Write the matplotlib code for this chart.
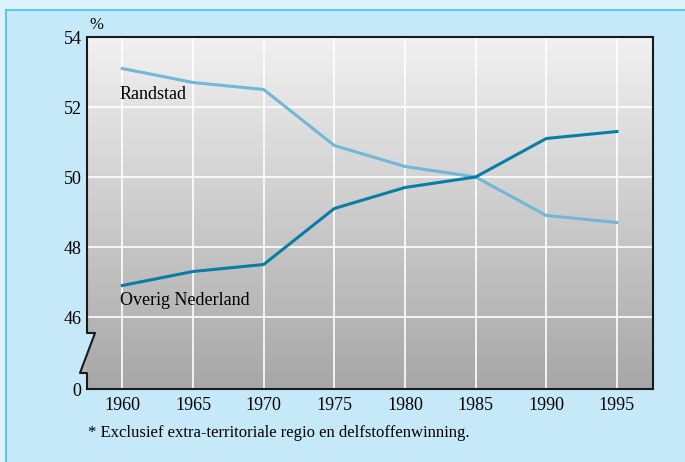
import numpy as np
import matplotlib.pyplot as plt
from matplotlib.colors import LinearSegmentedColormap
from matplotlib.patches import Polygon, Rectangle
from matplotlib.lines import Line2D

years = [1960, 1965, 1970, 1975, 1980, 1985, 1990, 1995]
randstad = [53.1, 52.7, 52.5, 50.9, 50.3, 50.0, 48.9, 48.7]
overig = [46.9, 47.3, 47.5, 49.1, 49.7, 50.0, 51.1, 51.3]
y_ticks = [46, 48, 50, 52, 54]
footnote = "* Exclusief extra-territoriale regio en delfstoffenwinning."

BG = "#c6e9f9"
plt.rcParams["font.family"] = ["Liberation Serif", "DejaVu Serif"]

fig = plt.figure(figsize=(6.85, 4.62), dpi=100, facecolor=BG)
W, H = 685, 462

# outer frame: pale strip on top/left and a blue rule
fig.patches.append(Rectangle((0, 1 - 9 / H), 1, 9 / H, transform=fig.transFigure,
                             facecolor="#dcf2fc", edgecolor="none", zorder=0))
fig.patches.append(Rectangle((0, 0), 5 / W, 1, transform=fig.transFigure,
                             facecolor="#dcf2fc", edgecolor="none", zorder=0))
fig.add_artist(Line2D([5.5 / W, 5.5 / W], [0, 1 - 9.5 / H], transform=fig.transFigure,
                      color="#5cc6ef", lw=1.5))
fig.add_artist(Line2D([5.5 / W, 1], [1 - 9.5 / H, 1 - 9.5 / H], transform=fig.transFigure,
                      color="#5cc6ef", lw=1.5))

left, right, top, bottom = 87, 653, 37, 389
ax = fig.add_axes([left / W, 1 - bottom / H, (right - left) / W, (bottom - top) / H])

ymin = 46 - 72 / 35
ax.set_xlim(1957.5, 1997.55)
ax.set_ylim(ymin, 54)

# gradient background
grad = np.linspace(0, 1, 256).reshape(-1, 1)
cmap = LinearSegmentedColormap.from_list("g", ["#a7a7a7", "#f1f1f1"])
ax.imshow(grad, extent=[0, 1, 0, 1], transform=ax.transAxes, aspect="auto",
          cmap=cmap, origin="lower", zorder=0)

for x in years:
    ax.axvline(x, color="white", lw=1.2, zorder=1)
for y in y_ticks[:-1]:
    ax.axhline(y, color="white", lw=1.2, zorder=1)

ax.plot(years, randstad, color="#72b8d6", lw=2.2, zorder=3)
ax.plot(years, overig, color="#0a7da6", lw=2.2, zorder=3)

ax.text(1959.8, randstad[0] - 0.86, "Randstad", fontsize=13, va="baseline", ha="left", zorder=4)
ax.text(1959.8, overig[0] - 0.57, "Overig Nederland", fontsize=13, va="baseline", ha="left", zorder=4)

ax.set_xticks(years)
ax.set_xticklabels([str(y) for y in years])
ax.set_yticks([ymin] + y_ticks)
ax.set_yticklabels(["0"] + [str(y) for y in y_ticks])
ax.tick_params(length=0, labelsize=13)
ax.tick_params(axis="y", pad=4)
ax.tick_params(axis="x", pad=6)

for s in ["top", "right", "bottom"]:
    ax.spines[s].set_linewidth(1.5)
    ax.spines[s].set_color("#1a1a1a")
ax.spines["left"].set_visible(False)


# left axis with break zigzag (pixel -> axes coords)
def ya(py):
    return (bottom - py) / (bottom - top)


def xa(px):
    return (px - left) / (right - left)


ax.add_patch(Polygon([(xa(87), ya(333)), (xa(95), ya(333)), (xa(80.5), ya(372)), (xa(87), ya(372))],
                     closed=True, transform=ax.transAxes, facecolor=BG, edgecolor="none",
                     clip_on=False, zorder=2))
ax.add_patch(Polygon([(xa(80), ya(373)), (xa(87), ya(373)), (xa(87), ya(354.5))],
                     closed=True, transform=ax.transAxes, facecolor="#b2b2b2", edgecolor="none",
                     clip_on=False, zorder=2))
ax.add_line(Line2D([xa(87), xa(87), xa(95), xa(80), xa(87), xa(87)],
                   [1, ya(333), ya(333), ya(373), ya(373), 0],
                   transform=ax.transAxes, color="#1a1a1a", lw=1.5, clip_on=False, zorder=5))

ax.text(xa(89), ya(25), "%", transform=ax.transAxes, fontsize=12, va="center", ha="left")

fig.text(88 / W, 1 - 433 / H, footnote, fontsize=12, va="center", ha="left")

fig.savefig("out.png", dpi=100, facecolor=BG)
